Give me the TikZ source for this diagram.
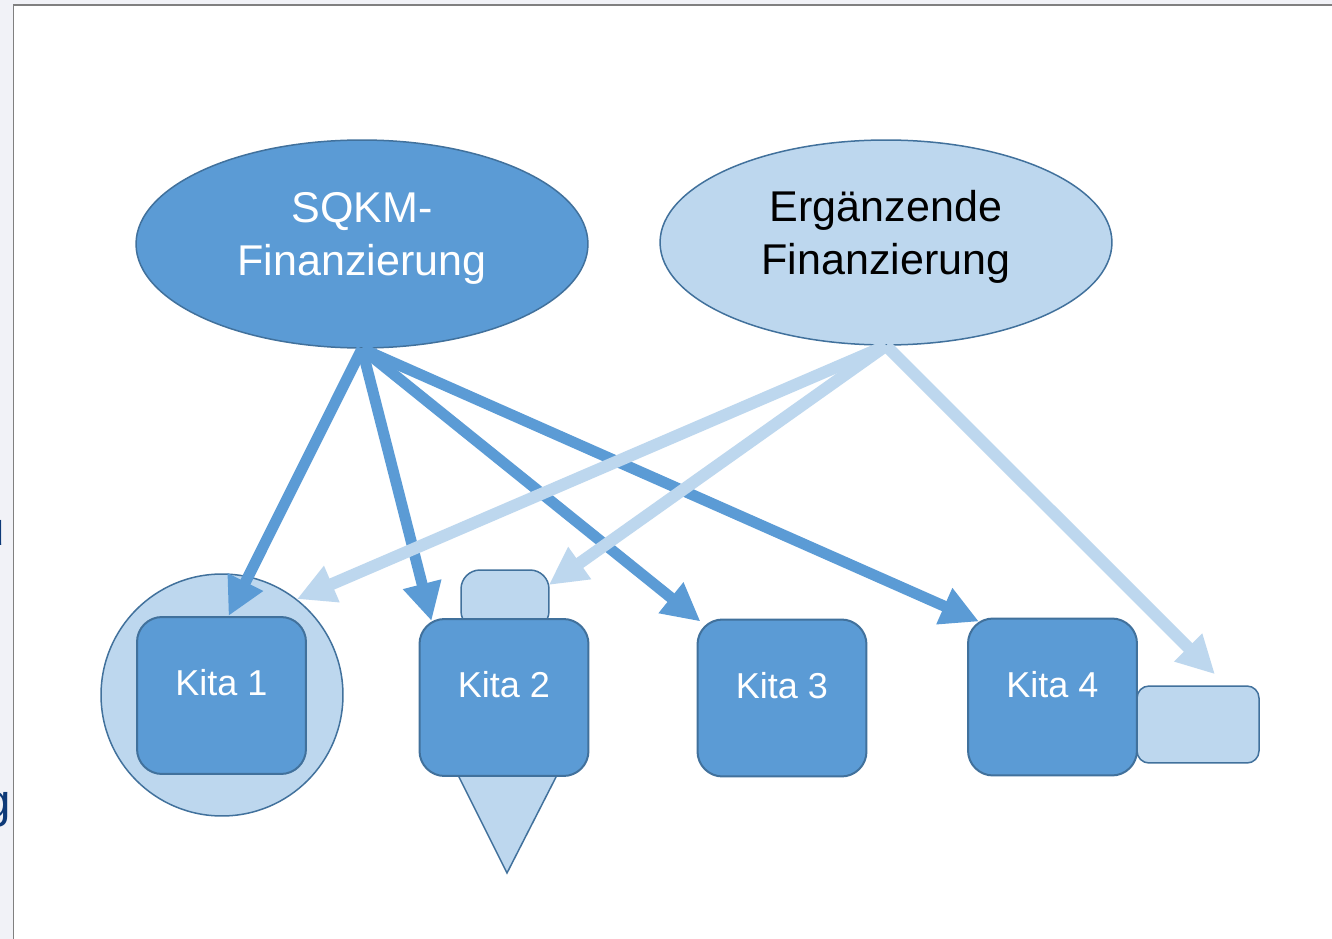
\documentclass[tikz,border=0pt]{standalone}
\usepackage{fontspec}
\setmainfont{Liberation Sans}
\usepackage{xcolor}
\usepackage{tikz}
\usetikzlibrary{shapes.geometric,arrows.meta,calc}
\definecolor{kitablue}{RGB}{91,155,213}
\definecolor{kitalight}{RGB}{189,215,238}
\definecolor{kitaedge}{RGB}{65,113,156}
\definecolor{pagegray}{RGB}{241,242,247}
\definecolor{framegray}{RGB}{128,128,128}
\definecolor{fragblue}{RGB}{14,58,120}
\newcommand\lowline{\rule[-0.42cm]{0pt}{0pt}}
\tikzstyle{fund}=[ellipse,draw=kitaedge,line width=0.03cm,inner sep=0pt,minimum width=9.04cm,minimum height=4.16cm,align=center,font=\fontsize{24.5}{30.2}\selectfont]
\tikzstyle{sqkmfund}=[fund,fill=kitablue,text=white]
\tikzstyle{extrafund}=[fund,fill=kitalight,text=black]
\tikzstyle{kita}=[rectangle,rounded corners=0.5cm,draw=kitaedge,line width=0.04cm,fill=kitablue,text=white,minimum width=3.38cm,minimum height=3.14cm,inner sep=0pt,text height=0.5cm,text depth=0.5cm,font=\fontsize{20.5}{24}\selectfont]
\tikzstyle{addon}=[draw=kitaedge,line width=0.03cm,fill=kitalight]
\tikzstyle{sqkmflow}=[line width=0.22cm,color=kitablue,arrows={-Triangle[width=0.74cm,length=0.76cm]}]
\tikzstyle{extraflow}=[line width=0.24cm,color=kitalight,arrows={-Triangle[width=0.74cm,length=0.76cm]}]
\tikzset{fragment/.style={text=fragblue,inner sep=0pt,font=\fontsize{27}{30}\selectfont}}

\begin{document}
\begin{tikzpicture}[x=0.02cm,y=-0.02cm]
\useasboundingbox (0,0) rectangle (1332,939);

% Page
\fill[pagegray] (0,0) rectangle (1332,939);
\fill[white] (13.5,5) rectangle (1332,939);
\draw[framegray,line width=0.04cm] (13.5,939) -- (13.5,5) -- (1332,5);
\begin{scope}
  \clip (0,0) rectangle (12.5,939);
  \node[fragment,anchor=base east] (fragu) at (5,545) {u};
  \node[fragment,anchor=base east] (fragg) at (11,817) {g};
\end{scope}

% Nodes
\node[sqkmfund]  (sqkm)       at (362,244)   {SQKM-\\Finanzierung\lowline};
\node[extrafund,minimum height=4.1cm] (ergaenzend) at (886,242.5) {Ergänzende\\Finanzierung\lowline};

\node[addon,circle,minimum size=4.84cm,inner sep=0pt] (ring) at (222,695) {};
\node[kita] (kita1) at (221.5,695.5) {Kita 1};

\coordinate (kita2pos) at (504,697.5);
\node[addon,rectangle,rounded corners=0.38cm,minimum width=1.76cm,minimum height=1.2cm,inner sep=0pt] (dome) at (505,600) {};
\draw[addon] ($(kita2pos)+(-48.5,72.5)$) -- ($(kita2pos)+(3,175.5)$) -- ($(kita2pos)+(55.6,72.5)$) -- cycle;
\node[kita] (kita2) at (kita2pos) {Kita 2};

\node[kita] (kita3) at (782,698)    {Kita 3};
\node[addon,rectangle,rounded corners=0.24cm,minimum width=2.44cm,minimum height=1.54cm,inner sep=0pt] (annex) at (1198,724.5) {};
\node[kita] (kita4) at (1052.5,697) {Kita 4};

% Arrow tips
\coordinate (tip1) at ($(kita1.north)+(7,0)$);
\coordinate (tip2) at ($(kita2.north west)+(13,3)$);
\coordinate (tip3) at ($(kita3.north west)+(4,3)$);
\coordinate (tip4) at ($(kita4.north west)+(12,4)$);
\coordinate (tipring)  at (ring.52);
\coordinate (tipdome)  at ($(dome.east)+(-1,-15)$);
\coordinate (tipannex) at ($(annex.north)+(17,-11)$);

% Edges
\path[sqkmflow] (sqkm.south) edge (tip1)
                (sqkm.south) edge (tip2)
                (sqkm.south) edge (tip3)
                (sqkm.south) edge (tip4);
\path[extraflow] (ergaenzend.south) edge (tipring)
                 (ergaenzend.south) edge (tipdome)
                 (ergaenzend.south) edge (tipannex);

\end{tikzpicture}
\end{document}
